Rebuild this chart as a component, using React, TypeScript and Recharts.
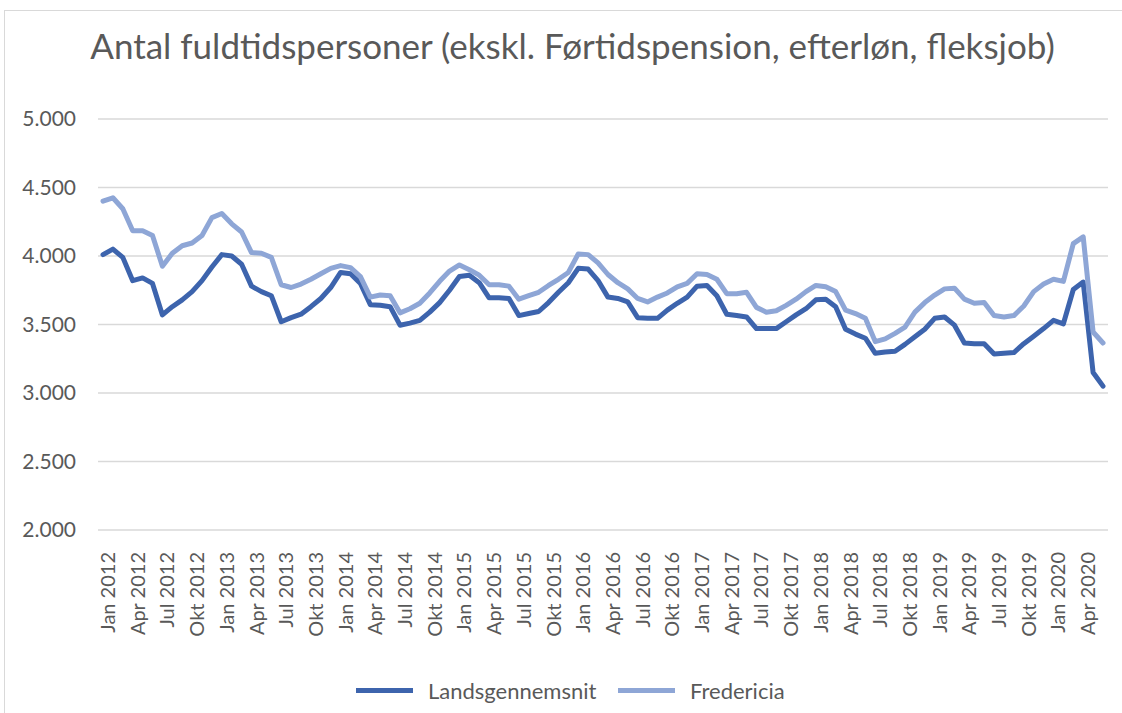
import { LineChart, Line, XAxis, YAxis, CartesianGrid } from "recharts";

const monthNames = ["Jan", "Feb", "Mar", "Apr", "Maj", "Jun", "Jul", "Aug", "Sep", "Okt", "Nov", "Dec"];
const years = [2012, 2013, 2014, 2015, 2016, 2017, 2018, 2019, 2020];
const monthsIn2020 = 6;

// Landsgennemsnit, Jan 2012 - Jun 2020
const landsgennemsnit = [
  4010, 4050, 3990, 3820, 3840, 3800, 3570, 3630, 3680, 3740, 3820, 3920,
  4010, 4000, 3940, 3780, 3740, 3710, 3520, 3550, 3575, 3630, 3690, 3770,
  3880, 3870, 3800, 3645, 3640, 3630, 3495, 3510, 3530, 3590, 3660, 3750,
  3850, 3860, 3805, 3695, 3695, 3690, 3565, 3580, 3595, 3660, 3735, 3805,
  3910, 3905, 3820, 3700, 3690, 3665, 3550, 3545, 3545, 3605, 3655, 3700,
  3780, 3785, 3710, 3575, 3565, 3555, 3470, 3470, 3470, 3520, 3570, 3615,
  3680, 3685, 3630, 3465, 3430, 3400, 3290, 3300, 3305, 3355, 3410, 3465,
  3545, 3555, 3495, 3365, 3360, 3360, 3285, 3290, 3295, 3360, 3415, 3470,
  3530, 3505, 3755, 3810, 3150, 3050,
];

// Fredericia, Jan 2012 - Jun 2020
const fredericia = [
  4400, 4425, 4345, 4185, 4185, 4150, 3925, 4020, 4075, 4095, 4150, 4280,
  4310, 4235, 4175, 4025, 4020, 3990, 3790, 3770, 3795, 3830, 3870, 3910,
  3930, 3915, 3850, 3700, 3715, 3710, 3585, 3615, 3655, 3730, 3815, 3890,
  3935, 3900, 3860, 3790, 3790, 3780, 3685, 3710, 3735, 3785, 3830, 3880,
  4015, 4010, 3950, 3865, 3805, 3760, 3690, 3665, 3700, 3730, 3775, 3800,
  3870, 3865, 3830, 3725, 3725, 3735, 3625, 3590, 3600, 3640, 3685, 3740,
  3785, 3775, 3740, 3605, 3580, 3545, 3375, 3395, 3435, 3480, 3590, 3660,
  3715, 3760, 3765, 3685, 3655, 3660, 3565, 3555, 3565, 3635, 3740, 3795,
  3830, 3815, 4090, 4140, 3445, 3365,
];

const yTicks = [2000, 2500, 3000, 3500, 4000, 4500, 5000];

const labels: string[] = [];
years.forEach((y) => {
  const n = y === 2020 ? monthsIn2020 : 12;
  for (let m = 0; m < n; m++) labels.push(`${monthNames[m]} ${y}`);
});

const data = labels.map((month, i) => ({
  month,
  landsgennemsnit: landsgennemsnit[i],
  fredericia: fredericia[i],
}));

const DARK = "#3d64ad";
const LIGHT = "#8ea6d6";
const TEXT = "#595959";
const FONT = "Lato, 'Open Sans', sans-serif";

const fmt = (v: number) => String(v).replace(/\B(?=(\d{3})+(?!\d))/g, ".");

function MonthTick(props: any) {
  const { x, y, payload } = props;
  const tx = x + 5;
  return (
    <text
      x={tx}
      y={y}
      dy="0.35em"
      transform={`rotate(-90, ${tx}, ${y})`}
      textAnchor="end"
      fill={TEXT}
      fontSize={20}
      fontFamily={FONT}
    >
      {payload.value}
    </text>
  );
}

export default function App() {
  return (
    <div style={{ position: "absolute", left: 0, top: 0, width: 1122, height: 713, background: "#fff", fontFamily: FONT }}>
      <div
        style={{
          position: "absolute",
          left: 4,
          top: 10,
          width: 1120,
          height: 705,
          border: "1px solid #d9d9d9",
        }}
      />
      <div
        style={{
          position: "absolute",
          left: 0,
          top: 24,
          width: 1145,
          textAlign: "center",
          fontSize: 35,
          color: TEXT,
          whiteSpace: "nowrap",
        }}
      >
        Antal fuldtidspersoner (ekskl. Førtidspension, efterløn, fleksjob)
      </div>
      <div style={{ position: "absolute", left: 0, top: 0 }}>
        <LineChart width={1122} height={713} data={data} margin={{ top: 119, right: 14, left: 8, bottom: 73 }}>
          <CartesianGrid vertical={false} stroke="#d9d9d9" strokeWidth={1.5} />
          <XAxis
            dataKey="month"
            interval={2}
            tick={<MonthTick />}
            tickLine={false}
            axisLine={false}
            tickSize={0}
            tickMargin={22}
            height={110}
            padding={{ left: 5, right: 5 }}
          />
          <YAxis
            domain={[2000, 5000]}
            ticks={yTicks}
            tickFormatter={fmt}
            tick={{ fill: TEXT, fontSize: 21, fontFamily: FONT }}
            tickLine={false}
            axisLine={false}
            tickSize={0}
            tickMargin={22}
            width={90}
          />
          <Line
            type="linear"
            dataKey="landsgennemsnit"
            name="Landsgennemsnit"
            stroke={DARK}
            strokeWidth={5}
            dot={false}
            strokeLinejoin="round"
            strokeLinecap="round"
            isAnimationActive={false}
          />
          <Line
            type="linear"
            dataKey="fredericia"
            name="Fredericia"
            stroke={LIGHT}
            strokeWidth={5}
            dot={false}
            strokeLinejoin="round"
            strokeLinecap="round"
            isAnimationActive={false}
          />
        </LineChart>
      </div>
      {[
        { label: "Landsgennemsnit", color: DARK, left: 356 },
        { label: "Fredericia", color: LIGHT, left: 618 },
      ].map((item) => (
        <div
          key={item.label}
          style={{ position: "absolute", left: item.left, top: 676, display: "flex", alignItems: "center", height: 28 }}
        >
          <div style={{ width: 57, height: 5, background: item.color, marginRight: 15 }} />
          <span style={{ fontSize: 22, color: TEXT, whiteSpace: "nowrap" }}>{item.label}</span>
        </div>
      ))}
    </div>
  );
}
